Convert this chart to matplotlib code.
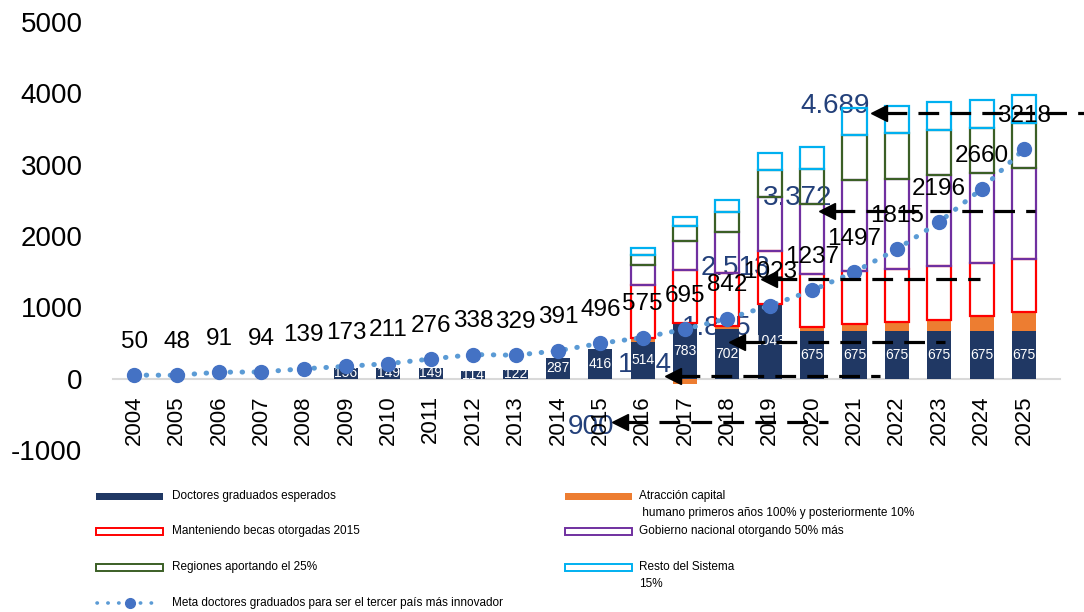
import matplotlib
matplotlib.use("Agg")
import matplotlib.pyplot as plt
from matplotlib.patches import Rectangle
from matplotlib.lines import Line2D
import matplotlib.transforms as mtransforms
import numpy as np

plt.rcParams['font.family'] = ['Liberation Sans', 'DejaVu Sans']
plt.rcParams['axes.unicode_minus'] = False

# datos
years = [str(y) for y in range(2004, 2026)]
doctores = [0, 0, 0, 0, 0, 156, 149, 149, 114, 122, 287, 416,
            514, 783, 702, 1043, 675, 675, 675, 675, 675, 675]
atraccion = [0] * 12 + [60, -70, 30, -10, 45, 85, 117, 154, 200, 256]
manteniendo = [0] * 12 + [745] * 10
gobierno = [0] * 12 + [280, 405, 573, 760, 979, 1287, 1263, 1277, 1268, 1273]
regiones = [0] * 12 + [140, 210, 289, 373, 499, 625, 639, 629, 629, 629]
resto = [0] * 12 + [93, 130, 168, 242, 308, 373, 387, 396, 396, 396]
meta = [50, 48, 91, 94, 139, 173, 211, 276, 338, 329, 391, 496,
        575, 695, 842, 1023, 1237, 1497, 1815, 2196, 2660, 3218]

# flechas punteadas con sus cifras (cuadros pegados sobre el grafico)
flecha_txt = ['4.689', '3.372', '2.513', '1.845', '1.14', '900']
flecha_y = [3720, 2355, 1398, 519, 38, -603]
flecha_desde = [17.41, 16.18, 14.81, 14.06, 12.53, 11.30]
flecha_hasta = [22.60, 21.26, 19.96, 19.13, 17.60, 16.37]
texto_x = [16.54, 15.66, 14.20, 13.75, 12.05, 10.78]
texto_y = [3823, 2533, 1552, 711, 192, -678]

NAVY = '#203864'
ORANGE = '#ED7D31'
BLUE_TXT = '#23407A'

fig = plt.figure(figsize=(10.84, 6.12), dpi=100)
ax = fig.add_axes([113 / 1084, 1 - 450 / 612, (1060 - 113) / 1084, 428 / 612])

# eje x sobre el cero (antes de fijar los ticks)
for s in ['top', 'right', 'left']:
    ax.spines[s].set_visible(False)
ax.spines['bottom'].set_position(('data', 0))
ax.spines['bottom'].set_color('#D9D9D9')
ax.spines['bottom'].set_linewidth(1.5)
ax.spines['bottom'].set_zorder(1.5)

x = np.arange(len(years))
w = 0.57
doc = np.array(doctores)
atr = np.array(atraccion)

bars = ax.bar(x, doc, width=w, color=NAVY, zorder=2)
for b, v in zip(bars, doctores):
    if v > 0:
        t = ax.text(b.get_x() + w / 2, v / 2, str(v), color='white',
                    ha='center', va='center', fontsize=10, zorder=4)
        t.set_clip_path(b)

pos = np.where(atr > 0, atr, 0)
neg = np.where(atr < 0, atr, 0)
m = atr != 0
ax.bar(x[m], pos[m], bottom=doc[m], width=w, color=ORANGE, zorder=2)
ax.bar(x[m], neg[m], width=w, color=ORANGE, zorder=2)

bottom = doc + pos
for vals, col in [(manteniendo, '#FF0000'), (gobierno, '#7030A0'),
                  (regiones, '#3B5F26'), (resto, '#00B0F0')]:
    v = np.array(vals)
    m = v != 0
    ax.bar(x[m], v[m], bottom=bottom[m], width=w, facecolor='none',
           edgecolor=col, linewidth=1.6, zorder=3)
    bottom = bottom + v

ax.plot(x, meta, color='#5B9BD5', lw=3.6, dashes=(0.1, 2.3),
        dash_capstyle='round', zorder=5)
ax.plot(x, meta, 'o', color='#4472C4', ms=10, zorder=6)
for i, v in enumerate(meta):
    ax.annotate(str(v), (i, v), xytext=(0, 24), textcoords='offset points',
                ha='center', va='center', fontsize=17.5, zorder=8)

# flechas
tr = mtransforms.offset_copy(ax.transData, fig=fig, x=7.5, y=0, units='dots')
for t, y, x0, x1, tx, ty in zip(flecha_txt, flecha_y, flecha_desde,
                                 flecha_hasta, texto_x, texto_y):
    ax.text(tx, ty, t, color=BLUE_TXT, fontsize=20, ha='center',
            va='center', zorder=1, clip_on=False)
    ax.plot([x0 + 0.33, x1], [y, y], color='black', lw=2.3,
            dashes=(6.5, 3.5), zorder=7, clip_on=False)
    ax.plot([x0], [y], marker='<', ms=11, color='black', transform=tr,
            zorder=7, clip_on=False)

ax.set_xlim(-0.5, 21.85)
ax.set_ylim(-1000, 5000)
ax.set_yticks(range(-1000, 5001, 1000))
ax.set_xticks(x)
ax.set_xticklabels(years)
ax.tick_params(axis='y', length=0, pad=22, labelsize=20)
ax.tick_params(axis='x', length=0, pad=12, labelsize=16, labelrotation=90)


# leyenda dibujada a mano para respetar las filas del original
def fx(px):
    return px / 1084


def fy(py):
    return 1 - py / 612


def caja(x0, yc, fill=None, edge=None):
    if fill is not None:
        r = Rectangle((fx(x0), fy(yc + 3.5)), fx(67), 7 / 612,
                      facecolor=fill, edgecolor='none',
                      transform=fig.transFigure)
    else:
        r = Rectangle((fx(x0), fy(yc + 3.5)), fx(67), 7 / 612,
                      facecolor='none', edgecolor=edge, lw=1.4,
                      transform=fig.transFigure)
    fig.add_artist(r)


def etiqueta(x0, yc, s):
    fig.text(fx(x0), fy(yc), s, fontsize=8.5, ha='left', va='center')


caja(96, 496, fill=NAVY)
etiqueta(172, 496, 'Doctores graduados esperados')
caja(96, 531, edge='#FF0000')
etiqueta(172, 531, 'Manteniendo becas otorgadas 2015')
caja(96, 567, edge='#3B5F26')
etiqueta(172, 567, 'Regiones aportando el 25%')
fig.add_artist(Line2D([fx(97), fx(160)], [fy(603), fy(603)], color='#5B9BD5',
                      lw=2.6, dashes=(0.1, 2.9), dash_capstyle='round',
                      transform=fig.transFigure))
fig.add_artist(Line2D([fx(130)], [fy(603)], marker='o', ms=7,
                      color='#4472C4', transform=fig.transFigure))
etiqueta(172, 603, 'Meta doctores graduados para ser el tercer país más innovador')

caja(565, 496, fill=ORANGE)
etiqueta(639, 496, 'Atracción capital')
etiqueta(639, 513, ' humano primeros años 100% y posteriormente 10%')
caja(565, 531, edge='#7030A0')
etiqueta(639, 531, 'Gobierno nacional otorgando 50% más')
caja(565, 567, edge='#00B0F0')
etiqueta(639, 567, 'Resto del Sistema')
etiqueta(639, 584, '15%')

fig.savefig('out.png', dpi=100)
